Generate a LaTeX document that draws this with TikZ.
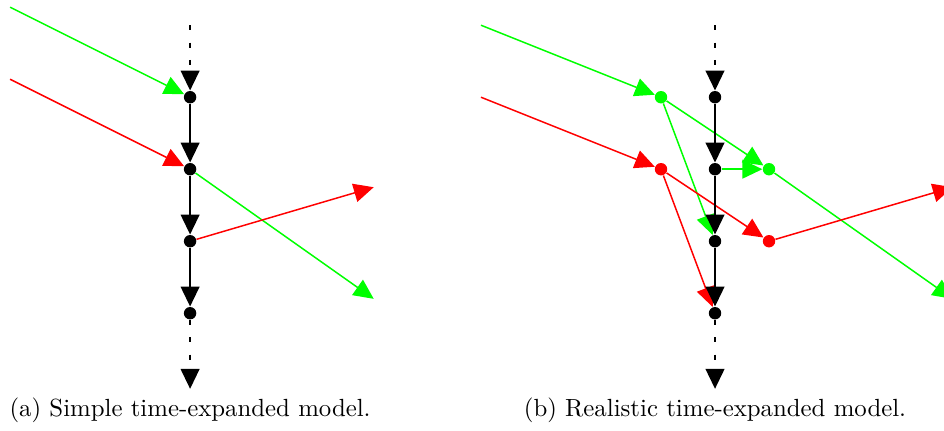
\documentclass[tikz,border=0pt]{standalone}
\usepackage{xcolor}
\usepackage{tikz}
\usetikzlibrary{arrows.meta, positioning}

\begin{document}
\begin{tikzpicture}[x=1.02cm, y=1.02cm,
  tnode/.style={circle, fill=black, inner sep=0pt, minimum size=5pt},
  cnode/.style={circle, fill=#1, inner sep=0pt, minimum size=5pt},
  arr/.style={-{Triangle[length=8pt, width=7.5pt]}},
  tarc/.style={arr, thick},
  carc/.style={arr, semithick, draw=#1},
  dots/.style={arr, thick, dash pattern=on 2pt off 5pt}
]
  \useasboundingbox (-2.64,-1.625) rectangle (10.47,4.35);

  % (a) simple time-expanded model
  \node[tnode] (a0) at (0,0) {};
  \node[tnode] (a1) at (0,1) {};
  \node[tnode] (a2) at (0,2) {};
  \node[tnode] (a3) at (0,3) {};
  \coordinate (atop) at (0,4);
  \coordinate (abot) at (0,-1.05);
  \coordinate (agin) at (-2.5,4.25);
  \coordinate (arin) at (-2.5,3.25);
  \coordinate (agout) at (2.55,0.2);
  \coordinate (arout) at (2.55,1.75);

  \draw[carc=green] (agin) -- (a3);
  \draw[carc=red] (arin) -- (a2);
  \draw[carc=green] (a2) -- (agout);
  \draw[carc=red] (a1) -- (arout);

  \draw[dots] (atop) -- (a3);
  \draw[tarc] (a3) -- (a2);
  \draw[tarc] (a2) -- (a1);
  \draw[tarc] (a1) -- (a0);
  \draw[dots] (a0) -- (abot);

  \node[anchor=base] (capa) at (0,-1.43) {(a) Simple time-expanded model.};

  % (b) realistic time-expanded model
  \node[tnode] (b0) at (7.29,0) {};
  \node[tnode] (b1) at (7.29,1) {};
  \node[tnode] (b2) at (7.29,2) {};
  \node[tnode] (b3) at (7.29,3) {};
  \node[cnode=green] (gdep) at (6.54,3) {};
  \node[cnode=green] (garr) at (8.04,2) {};
  \node[cnode=red] (rdep) at (6.54,2) {};
  \node[cnode=red] (rarr) at (8.04,1) {};
  \coordinate (btop) at (7.29,4);
  \coordinate (bbot) at (7.29,-1.05);
  \coordinate (bgin) at (4.04,4);
  \coordinate (brin) at (4.04,3);
  \coordinate (bgout) at (10.59,0.2);
  \coordinate (brout) at (10.59,1.75);

  \draw[carc=green] (bgin) -- (gdep);
  \draw[carc=red] (brin) -- (rdep);
  \draw[carc=green] (gdep) -- (garr);
  \draw[carc=green] (gdep) -- (b1);
  \draw[carc=green] (b2) -- (garr);
  \draw[carc=green] (garr) -- (bgout);
  \draw[carc=red] (rdep) -- (rarr);
  \draw[carc=red] (rdep) -- (b0);
  \draw[carc=red] (rarr) -- (brout);

  \draw[dots] (btop) -- (b3);
  \draw[tarc] (b3) -- (b2);
  \draw[tarc] (b2) -- (b1);
  \draw[tarc] (b1) -- (b0);
  \draw[dots] (b0) -- (bbot);

  \node[anchor=base] (capb) at (7.29,-1.43) {(b) Realistic time-expanded model.};
\end{tikzpicture}
\end{document}
